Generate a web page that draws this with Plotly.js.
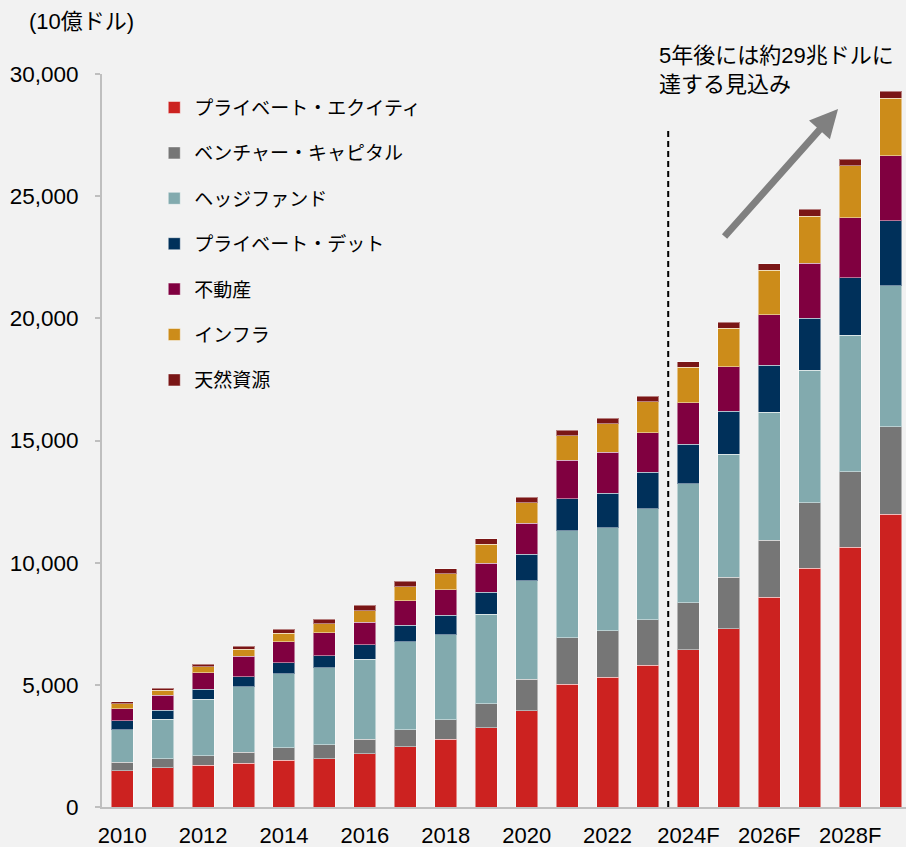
<!DOCTYPE html>
<html>
<head>
<meta charset="utf-8">
<script src="https://cdn.plot.ly/plotly-3.0.1.min.js"></script>
<style>
html,body{margin:0;padding:0;background:#F2F2F2;}
#chart{width:906px;height:847px;}
</style>
</head>
<body>
<div id="chart"></div>
<script>
const years = ['2010','2011','2012','2013','2014','2015','2016','2017','2018','2019','2020','2021','2022','2023','2024F','2025F','2026F','2027F','2028F','2029F'];
const tickYears = ['2010','2012','2014','2016','2018','2020','2022','2024F','2026F','2028F'];

const privateEquity   = [1490,1610,1700,1800,1920,1980,2180,2470,2780,3250,3930,5020,5310,5800,6440,7300,8580,9770,10630,11980];
const ventureCapital  = [350,370,400,440,500,570,600,700,790,980,1300,1910,1910,1870,1920,2100,2330,2690,3090,3590];
const hedgeFunds      = [1320,1620,2310,2690,3040,3150,3260,3590,3480,3660,4020,4370,4200,4530,4860,5030,5240,5420,5580,5770];
const privateDebt     = [370,360,410,410,440,500,600,680,790,900,1090,1310,1420,1500,1620,1760,1940,2130,2370,2650];
const realEstate      = [490,610,680,820,870,930,930,1010,1050,1190,1280,1580,1680,1620,1700,1830,2060,2240,2450,2670];
const infrastructure  = [200,200,250,300,350,370,460,560,650,780,830,1010,1170,1270,1450,1580,1820,1920,2120,2350];
const naturalRes      = [80,100,95,120,150,180,220,220,220,220,220,220,220,230,230,250,270,290,270,290];

const seriesNames = ['プライベート・エクイティ','ベンチャー・キャピタル','ヘッジファンド','プライベート・デット','不動産','インフラ','天然資源'];
const seriesData = [privateEquity, ventureCapital, hedgeFunds, privateDebt, realEstate, infrastructure, naturalRes];
const seriesColors = ['#CC2220','#767676','#82AAAE','#00305A','#800040','#CC8C1A','#7A1616'];

const FONT = 'Liberation Sans, Arial, "Noto Sans CJK JP", sans-serif';

const traces = seriesNames.map((n, i) => ({
  type: 'bar',
  name: n,
  x: years,
  y: seriesData[i],
  legendgroup: 'g' + i,
  marker: {color: seriesColors[i], line: {color: 'rgba(255,255,255,0.45)', width: 1}},
  hoverinfo: 'skip'
}));

const layout = {
  width: 906, height: 847,
  paper_bgcolor: '#F2F2F2', plot_bgcolor: '#F2F2F2',
  margin: {l: 102, r: 0, t: 74, b: 40},
  barmode: 'stack',
  bargap: 0.456,
  font: {family: FONT, color: '#000', size: 20},
  showlegend: true,
  legend: {
    x: 0.065, y: 0.98, xanchor: 'left', yanchor: 'top',
    bgcolor: 'rgba(0,0,0,0)', traceorder: 'grouped', tracegroupgap: 17.7,
    font: {family: '"Noto Sans CJK JP", sans-serif', size: 19, color: '#000'}
  },
  xaxis: {
    type: 'category', range: [-0.5, 19.38], fixedrange: true,
    tickmode: 'array', tickvals: tickYears, ticktext: tickYears,
    showline: true, linecolor: '#BFBFBF', linewidth: 2,
    ticks: '', showgrid: false, zeroline: false,
    tickfont: {size: 22, family: FONT}, ticklabelstandoff: 8
  },
  yaxis: {
    range: [0, 30000], fixedrange: true,
    tickvals: [0,5000,10000,15000,20000,25000,30000],
    ticktext: ['0','5,000','10,000','15,000','20,000','25,000','30,000'],
    showline: true, linecolor: '#BFBFBF', linewidth: 2,
    ticks: 'outside', ticklen: 5, tickcolor: '#BFBFBF', tickwidth: 2,
    showgrid: false, zeroline: false,
    tickfont: {size: 22.5, family: FONT}, ticklabelstandoff: 12
  },
  shapes: [{
    type: 'line', xref: 'x', yref: 'y', x0: 13.5, x1: 13.5, y0: 0, y1: 27800,
    line: {color: '#000', width: 2, dash: '6px,4px'}
  }],
  annotations: [
    {xref: 'paper', yref: 'paper', x: -0.093, y: 1.071, xanchor: 'left', yanchor: 'middle',
     text: '(10億ドル)', showarrow: false, font: {size: 22, family: FONT}},
    {xref: 'paper', yref: 'paper', x: 0.69, y: 1.006, xanchor: 'left', yanchor: 'middle', align: 'left',
     text: '5年後には約29兆ドルに<br>達する見込み', showarrow: false,
     font: {size: 22, family: FONT}},
    {xref: 'x', yref: 'y', axref: 'x', ayref: 'y', x: 17.70, y: 28567, ax: 14.86, ay: 23288,
     text: '', showarrow: true, arrowhead: 2, arrowsize: 0.8, arrowwidth: 7, arrowcolor: '#808080'}
  ]
};

Plotly.newPlot('chart', traces, layout, {displayModeBar: false, staticPlot: true});
</script>
</body>
</html>
